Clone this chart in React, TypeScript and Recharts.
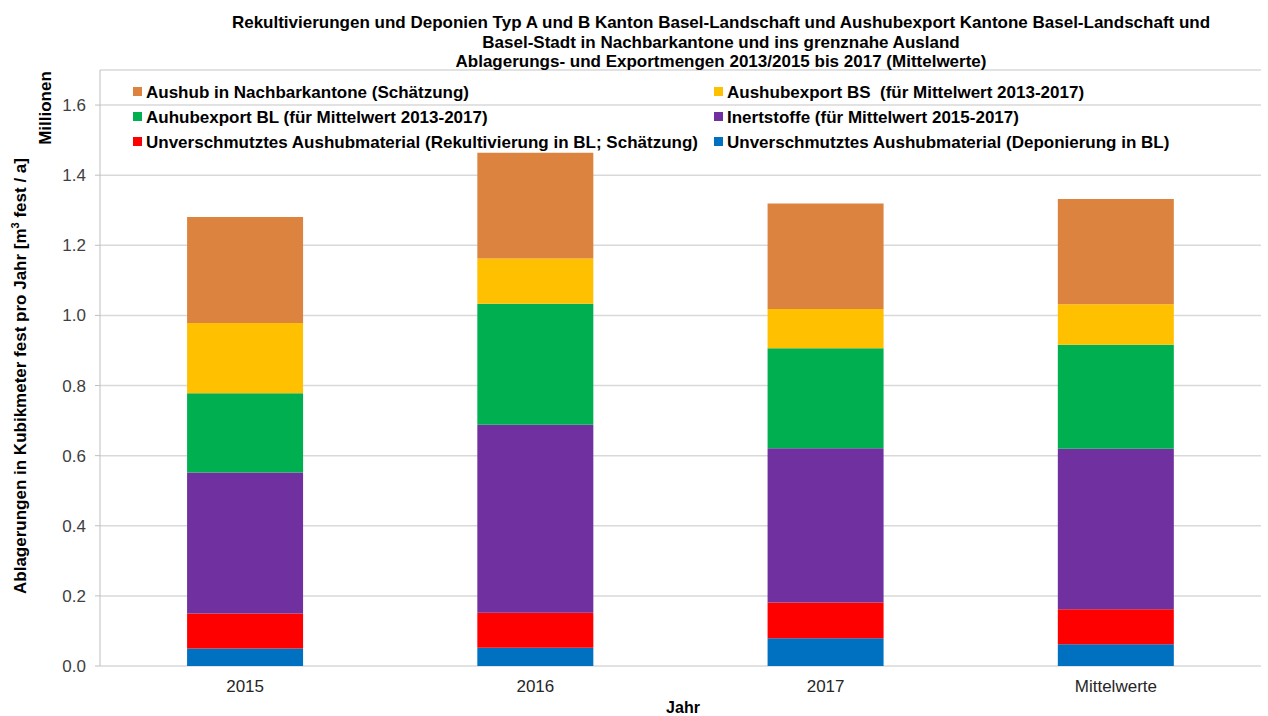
import React from 'react';
import { BarChart, Bar, XAxis, YAxis, CartesianGrid } from 'recharts';

const categories = ['2015', '2016', '2017', 'Mittelwerte'];
const deponierungBL = [0.05, 0.052, 0.079, 0.062];
const rekultivierungBL = [0.1, 0.1, 0.102, 0.1];
const inertstoffe = [0.402, 0.536, 0.44, 0.458];
const aushubexportBL = [0.226, 0.345, 0.285, 0.296];
const aushubexportBS = [0.2, 0.129, 0.112, 0.116];
const aushubNachbar = [0.303, 0.302, 0.301, 0.3];
const yTicks = [0, 0.2, 0.4, 0.6, 0.8, 1.0, 1.2, 1.4, 1.6];

const series = [
  { key: 'dep', name: 'Unverschmutztes Aushubmaterial (Deponierung in BL)', color: '#0070C0', values: deponierungBL },
  { key: 'rek', name: 'Unverschmutztes Aushubmaterial (Rekultivierung in BL; Schätzung)', color: '#FF0000', values: rekultivierungBL },
  { key: 'inert', name: 'Inertstoffe (für Mittelwert 2015-2017)', color: '#7030A0', values: inertstoffe },
  { key: 'bl', name: 'Auhubexport BL (für Mittelwert 2013-2017)', color: '#00B050', values: aushubexportBL },
  { key: 'bs', name: 'Aushubexport BS  (für Mittelwert 2013-2017)', color: '#FFC000', values: aushubexportBS },
  { key: 'nach', name: 'Aushub in Nachbarkantone (Schätzung)', color: '#DC843F', values: aushubNachbar },
];

const data = categories.map((c, i) => {
  const row: Record<string, any> = { cat: c };
  series.forEach((s) => { row[s.key] = s.values[i]; });
  return row;
});

const legendRows = [
  ['nach', 'bs'],
  ['bl', 'inert'],
  ['rek', 'dep'],
];

const FONT = '"Liberation Sans", Arial, sans-serif';

export default function App() {
  const byKey: Record<string, typeof series[0]> = {};
  series.forEach((s) => { byKey[s.key] = s; });
  return (
    <div style={{ position: 'absolute', left: 0, top: 0, width: 1268, height: 716, background: '#fff', fontFamily: FONT }}>
      <BarChart
        width={1268}
        height={716}
        data={data}
        margin={{ top: 70, right: 7, left: 0, bottom: 0 }}
        barCategoryGap="30%"
      >
        <CartesianGrid vertical={false} stroke="#d9d9d9" strokeWidth={1.5} />
        <XAxis
          xAxisId="t"
          type="number"
          domain={[0, 4]}
          ticks={[0, 1, 2, 3, 4]}
          height={0}
          tick={false}
          tickSize={6}
          axisLine={{ stroke: '#d9d9d9', strokeWidth: 1.5 }}
          tickLine={{ stroke: '#d9d9d9' }}
        />
        <XAxis
          dataKey="cat"
          height={50}
          axisLine={false}
          tickLine={false}
          tick={{ fontSize: 17, fill: '#262626', fontFamily: FONT }}
          tickMargin={8}
        />
        <YAxis
          width={100}
          domain={[0, 1.7]}
          ticks={yTicks}
          interval={0}
          tickFormatter={(v: number) => v.toFixed(1)}
          tick={{ fontSize: 17, fill: '#404040', fontFamily: FONT }}
          tickSize={5}
          tickMargin={9}
          axisLine={{ stroke: '#bfbfbf' }}
          tickLine={{ stroke: '#bfbfbf' }}
        />
        {series.map((s) => (
          <Bar key={s.key} dataKey={s.key} name={s.name} stackId="a" fill={s.color} isAnimationActive={false} />
        ))}
      </BarChart>
      <svg width={1268} height={716} style={{ position: 'absolute', left: 0, top: 0, pointerEvents: 'none' }}>
        <g fontFamily={FONT} fontWeight="bold" fontSize={17} fill="#000" textAnchor="middle">
          <text x={721} y={28}>Rekultivierungen und Deponien Typ A und B Kanton Basel-Landschaft und Aushubexport Kantone Basel-Landschaft und</text>
          <text x={721} y={48}>Basel-Stadt in Nachbarkantone und ins grenznahe Ausland</text>
          <text x={721} y={67}>Ablagerungs- und Exportmengen 2013/2015 bis 2017 (Mittelwerte)</text>
        </g>
        {legendRows.map((row, ri) =>
          row.map((k, ci) => {
            const s = byKey[k];
            const x = ci === 0 ? 133 : 714;
            const y = 92 + ri * 25;
            return (
              <g key={k}>
                <rect x={x} y={y - 5} width={9} height={9} fill={s.color} />
                <text x={x + 13} y={y + 6} fontFamily={FONT} fontWeight="bold" fontSize={17} fill="#000" style={{ whiteSpace: 'pre' }}>{s.name}</text>
              </g>
            );
          })
        )}
        <text transform="translate(51,108) rotate(-90)" textAnchor="middle" fontFamily={FONT} fontWeight="bold" fontSize={17} fill="#000">Millionen</text>
        <text transform="translate(26,376) rotate(-90)" textAnchor="middle" fontFamily={FONT} fontWeight="bold" fontSize={17} fill="#000">
          Ablagerungen in Kubikmeter fest pro Jahr [m<tspan fontSize={11} dy={-7}>3</tspan><tspan dy={7}> fest / a]</tspan>
        </text>
        <text x={683} y={713} textAnchor="middle" fontFamily={FONT} fontWeight="bold" fontSize={16} fill="#000">Jahr</text>
      </svg>
    </div>
  );
}
